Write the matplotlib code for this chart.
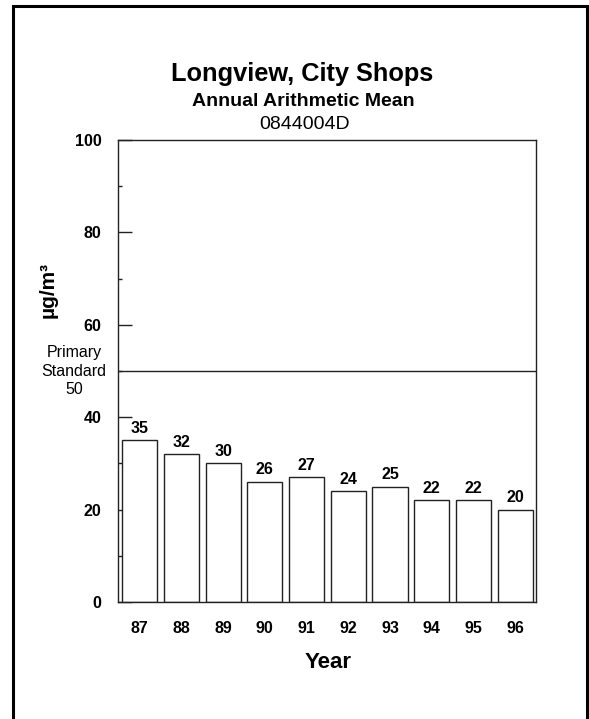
import matplotlib
matplotlib.use("Agg")
import matplotlib.pyplot as plt
from matplotlib.patches import Rectangle
from matplotlib.ticker import MultipleLocator

plt.rcParams['font.family'] = ['Liberation Sans', 'DejaVu Sans']

years = ["87", "88", "89", "90", "91", "92", "93", "94", "95", "96"]
values = [35, 32, 30, 26, 27, 24, 25, 22, 22, 20]
standard = 50
title = "Longview, City Shops"
subtitle = "Annual Arithmetic Mean"
site = "0844004D"

W, H = 589, 719
fig = plt.figure(figsize=(W / 100, H / 100), dpi=100)
fig.patch.set_facecolor("white")

def fx(px):
    return px / W

def fy(py):
    return 1 - py / H

ax = fig.add_axes([fx(118), fy(602), fx(536) - fx(118), fy(140) - fy(602)])

dark = "#222222"
x = list(range(len(years)))
ax.bar(x, values, width=0.84, facecolor="white", edgecolor=dark, linewidth=1.0, zorder=2)
for xi, v in zip(x, values):
    ax.annotate(str(v), (xi, v), xytext=(0, 3.2), textcoords="offset points",
                ha="center", va="bottom", fontsize=11.5, fontweight="bold")

ax.axhline(standard, color=dark, linewidth=1.0, zorder=1)
ax.annotate("Primary\nStandard\n" + str(standard), xy=(0, standard),
            xycoords=("axes fraction", "data"), xytext=(-31.5, 0),
            textcoords="offset points", ha="center", va="center",
            fontsize=11.5, linespacing=1.3)

ax.set_xlim(-0.52, 9.5)
ax.set_ylim(0, 100)
ax.set_xticks(x)
ax.set_xticklabels(years, fontsize=11.5, fontweight="bold")
ax.tick_params(axis="x", length=0, pad=14)
ax.yaxis.set_major_locator(MultipleLocator(20))
ax.yaxis.set_minor_locator(MultipleLocator(10))
ax.tick_params(axis="y", which="major", direction="in", length=10, width=1,
               color=dark, pad=12, labelsize=11.5)
ax.tick_params(axis="y", which="minor", direction="in", length=3, width=1, color=dark)
for lab in ax.get_yticklabels():
    lab.set_fontweight("bold")
for s in ax.spines.values():
    s.set_color(dark)
    s.set_linewidth(1.0)

fig.text(fx(48), fy(290), "µg/m³", rotation=90, ha="center", va="center",
         fontsize=15, fontweight="bold")
fig.text(fx(328), fy(663), "Year", ha="center", va="center",
         fontsize=16, fontweight="bold")

fig.text(fx(302), fy(81.5), title, ha="center", va="baseline", fontsize=18.3, fontweight="bold")
fig.text(fx(303.5), fy(105.5), subtitle, ha="center", va="baseline", fontsize=14, fontweight="bold")
fig.text(fx(304.5), fy(129), site, ha="center", va="baseline", fontsize=14)

frame = Rectangle((fx(13), fy(730)), fx(586.5) - fx(13), fy(6) - fy(730),
                  transform=fig.transFigure, fill=False, edgecolor="black",
                  linewidth=2.2, clip_on=False)
fig.patches.append(frame)

fig.savefig("out.png", dpi=100, facecolor="white")
